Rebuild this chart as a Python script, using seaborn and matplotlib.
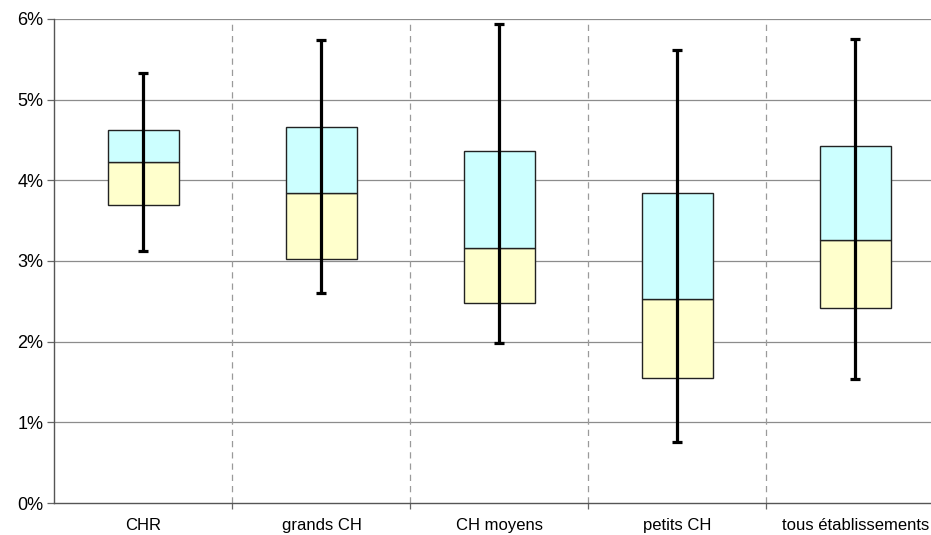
import matplotlib
matplotlib.use("Agg")
import matplotlib.pyplot as plt
import seaborn as sns
import pandas as pd
import numpy as np
from matplotlib.ticker import PercentFormatter, FixedLocator

# Distribution by hospital category (values in %)
categories = ["CHR", "grands CH", "CH moyens", "petits CH", "tous établissements"]
minimum = [3.12, 2.60, 1.98, 0.76, 1.54]
q1 = [3.69, 3.03, 2.48, 1.55, 2.42]
median = [4.23, 3.84, 3.16, 2.53, 3.26]
q3 = [4.62, 4.66, 4.36, 3.84, 4.42]
maximum = [5.33, 5.74, 5.94, 5.62, 5.75]

df = pd.DataFrame({
    "cat": categories,
    "q1": q1,
    "low": np.array(median) - np.array(q1),
    "high": np.array(q3) - np.array(median),
    "median": median,
})

sns.set_theme(style="white")
plt.rcParams["font.family"] = ["Liberation Sans", "DejaVu Sans"]

fig = plt.figure(figsize=(9.31, 5.35), dpi=100)
ax = fig.add_axes([0.0585, 0.0598, 0.956, 0.9047])

# lower half of the box: Q1 -> median
sns.barplot(data=df, x="cat", y="low", bottom=df["q1"].values, color="#FFFFCC",
            saturation=1, width=0.4, edgecolor="#222222", linewidth=1.0,
            ax=ax, zorder=2)
# upper half of the box: median -> Q3
sns.barplot(data=df, x="cat", y="high", bottom=df["median"].values, color="#CCFFFF",
            saturation=1, width=0.4, edgecolor="#222222", linewidth=1.0,
            ax=ax, zorder=2)

# min-max whiskers
xs = np.arange(len(categories))
ax.errorbar(xs, median,
            yerr=[np.array(median) - np.array(minimum), np.array(maximum) - np.array(median)],
            fmt="none", ecolor="black", elinewidth=2.3, capsize=3.3, capthick=2.3, zorder=4)

ax.set_xlim(-0.5, len(categories) - 0.5)
ax.set_ylim(0, 6)
ax.yaxis.set_major_locator(FixedLocator([0, 1, 2, 3, 4, 5, 6]))
ax.yaxis.set_major_formatter(PercentFormatter(decimals=0))
ax.set_xlabel("")
ax.set_ylabel("")

# horizontal gridlines
for y in range(1, 7):
    ax.axhline(y, color="#8c8c8c", linewidth=0.9, zorder=1)
# dashed category separators
for b in np.arange(0.5, len(categories) - 0.5, 1):
    ax.axvline(b, color="#9a9a9a", linewidth=0.9, linestyle=(0, (5, 4)), zorder=1)

ax.set_xticks(xs)
ax.set_xticklabels(categories)
ax.set_xticks(np.arange(0.5, len(categories) - 0.5, 1), minor=True)
ax.tick_params(axis="x", which="major", length=0, pad=11, labelsize=12, colors="black")
ax.tick_params(axis="x", which="minor", length=4, width=0.9, color="#666666", direction="out", bottom=True)
ax.tick_params(axis="y", which="major", length=5, width=0.9, color="#666666", direction="out",
               labelsize=13, pad=3, left=True, labelcolor="black")

for side in ["top", "right"]:
    ax.spines[side].set_visible(False)
for side in ["left", "bottom"]:
    ax.spines[side].set_color("#555555")
    ax.spines[side].set_linewidth(1.0)
    ax.spines[side].set_zorder(5)

fig.savefig("out.png", dpi=100)
